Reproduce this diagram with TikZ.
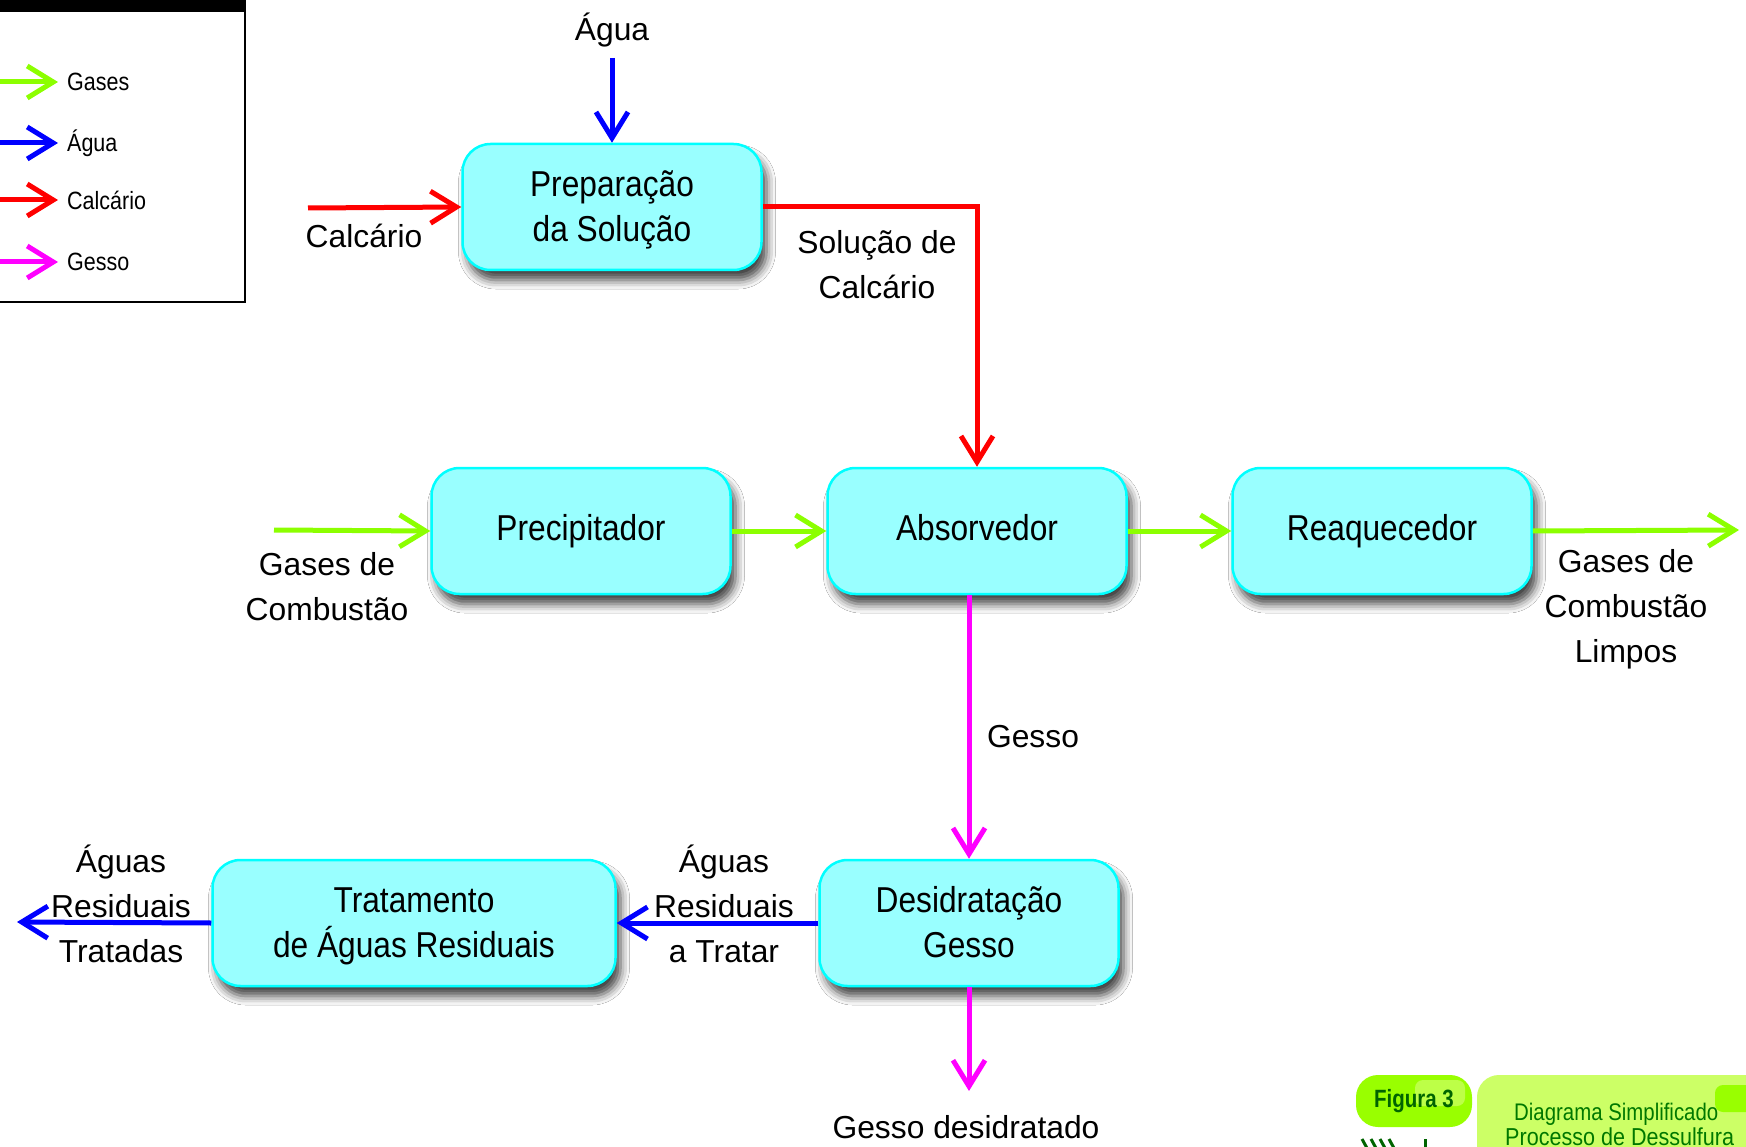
\documentclass[tikz,border=0pt]{standalone}
\usepackage{fontspec}
\setmainfont{Liberation Sans}
\newfontfamily\condfont{Liberation Sans}[FakeStretch=0.88]
\newfontfamily\legfont{Liberation Sans}[FakeStretch=0.86]
\newfontfamily\capfont{Liberation Sans}[FakeStretch=0.85]
\newfontfamily\figfont{Liberation Sans}[FakeStretch=0.82]
\newcommand\lastdp{\rule[-7pt]{0pt}{7pt}}
\usetikzlibrary{arrows.meta,shadows.blur,calc}
\definecolor{gasgreen}{RGB}{140,255,0}
\definecolor{wblue}{RGB}{0,0,255}
\definecolor{cred}{RGB}{255,0,0}
\definecolor{gmag}{RGB}{255,0,255}
\definecolor{boxfill}{RGB}{153,255,255}
\definecolor{boxline}{RGB}{0,255,255}
\definecolor{figgreen}{RGB}{153,255,0}
\definecolor{figlight}{RGB}{204,255,102}
\definecolor{figtext}{RGB}{0,120,0}
\definecolor{figdark}{RGB}{0,100,0}
\tikzset{
  procbox/.style={rectangle, rounded corners=28pt, minimum width=299pt, minimum height=126pt,
    inner sep=0pt, align=center, draw=boxline, line width=2.5pt, fill=boxfill,
    font=\condfont\fontsize{36}{45}\selectfont,
    blur shadow={shadow xshift=5pt, shadow yshift=-10pt, shadow blur radius=9pt, shadow opacity=75}},
  flow/.style={line width=5pt, -{Straight Barb[length=26pt,width=32pt,line width=5pt]}},
  lbl/.style={align=center, inner sep=0pt, font=\fontsize{31.8}{45}\selectfont},
  legtxt/.style={anchor=west, inner sep=0pt, font=\legfont\fontsize{25}{30}\selectfont},
}
\begin{document}
\begin{tikzpicture}[x=1pt,y=-1pt]
\useasboundingbox (0,0) rectangle (1746,1147);
\fill[white] (0,0) rectangle (1746,1147);

% Legend
\draw[line width=2.5pt, fill=white] (-10,-10) rectangle (245,302);
\fill[black] (-10,-10) rectangle (245,12);
\coordinate (lg1s) at (-5,82);  \coordinate (lg1e) at (58,82);
\coordinate (lg2s) at (-5,143); \coordinate (lg2e) at (58,143);
\coordinate (lg3s) at (-5,200); \coordinate (lg3e) at (58,200);
\coordinate (lg4s) at (-5,262); \coordinate (lg4e) at (58,262);
\draw[flow, gasgreen] (lg1s) -- (lg1e);
\draw[flow, wblue] (lg2s) -- (lg2e);
\draw[flow, cred] (lg3s) -- (lg3e);
\draw[flow, gmag] (lg4s) -- (lg4e);
\node[legtxt] (lt1) at (67,82) {Gases};
\node[legtxt] (lt2) at (67,143) {Água};
\node[legtxt] (lt3) at (67,200) {Calcário};
\node[legtxt] (lt4) at (67,262) {Gesso};

% Process boxes
\node[procbox] (prep) at (612,207) {\strut Preparação\\da Solução\lastdp};
\node[procbox] (prec) at (581,531) {\strut Precipitador};
\node[procbox] (abs) at (977,531) {\strut Absorvedor};
\node[procbox] (reaq) at (1382,531) {\strut Reaquecedor};
\node[procbox] (des) at (969,923) {\strut Desidratação\\Gesso\lastdp};
\node[procbox, minimum width=403pt] (trat) at (414,923) {\strut Tratamento\\de Águas Residuais\lastdp};

% free ends
\coordinate (aguain) at (612,58);
\coordinate (calcin) at (308,208);
\coordinate (gasin) at (274,530);
\coordinate (gasout) at (1739,530);
\coordinate (aguaout) at (17,922);
\coordinate (gessout) at (969,1091);

% connectors
\draw[flow, wblue] (aguain) -- (prep.north);
\draw[flow, cred] (calcin) -- (prep.west);
\draw[flow, cred] (prep.east) -| (abs.north);
\draw[flow, gasgreen] (gasin) -- (prec.west);
\draw[flow, gasgreen] (prec.east) -- (abs.west);
\draw[flow, gasgreen] (abs.east) -- (reaq.west);
\draw[flow, gasgreen] (reaq.east) -- (gasout);
\draw[flow, gmag] (abs.south -| des.north) -- (des.north);
\draw[flow, wblue] (des.west) -- (trat.east);
\draw[flow, wblue] (trat.west) -- (aguaout);
\draw[flow, gmag] (des.south) -- (gessout);

% labels
\node[lbl] (l1) at (612,30) {Água};
\node[lbl] (l2) at (364,236) {Calcário};
\node[lbl] (l3) at (877,265) {Solução de\\Calcário};
\node[lbl] (l4) at (327,587) {Gases de\\Combustão};
\node[lbl] (l5) at (1626,609) {Gases de\\Combustão\\Limpos};
\node[lbl] (l6) at (1033,737) {Gesso};
\node[lbl] (l7) at (724,904) {Águas\\Residuais\\a Tratar};
\node[lbl] (l8) at (121,904) {Águas\\Residuais\\Tratadas};
\node[lbl] (l9) at (966,1127) {Gesso desidratado};

% caption
\fill[figgreen, rounded corners=22pt] (1356,1075) rectangle (1472,1127);
\fill[figlight!70!figgreen, rounded corners=8pt] (1415,1080) rectangle (1465,1106);
\node[font=\figfont\bfseries\fontsize{25}{30}\selectfont, text=figdark, inner sep=0pt] (fig) at (1414,1101) {Figura 3};
\fill[figlight, rounded corners=22pt] (1477,1075) rectangle (1800,1200);
\fill[figgreen, rounded corners=8pt] (1715,1085) rectangle (1780,1112);
\node[anchor=base west, inner sep=0pt, text=figtext, font=\capfont\fontsize{24}{25}\selectfont] (c1) at (1514,1120) {Diagrama Simplificado};
\node[anchor=base west, inner sep=0pt, text=figtext, font=\condfont\fontsize{24.5}{25}\selectfont] (c2) at (1505,1145) {Processo de Dessulfura};
\foreach \i in {0,1,2,3}
  \draw[figdark, line width=3pt] (1362+\i*9,1139) -- (1368+\i*9,1150);
\draw[figdark, line width=3pt] (1425,1139) -- (1425,1150);
\end{tikzpicture}
\end{document}
